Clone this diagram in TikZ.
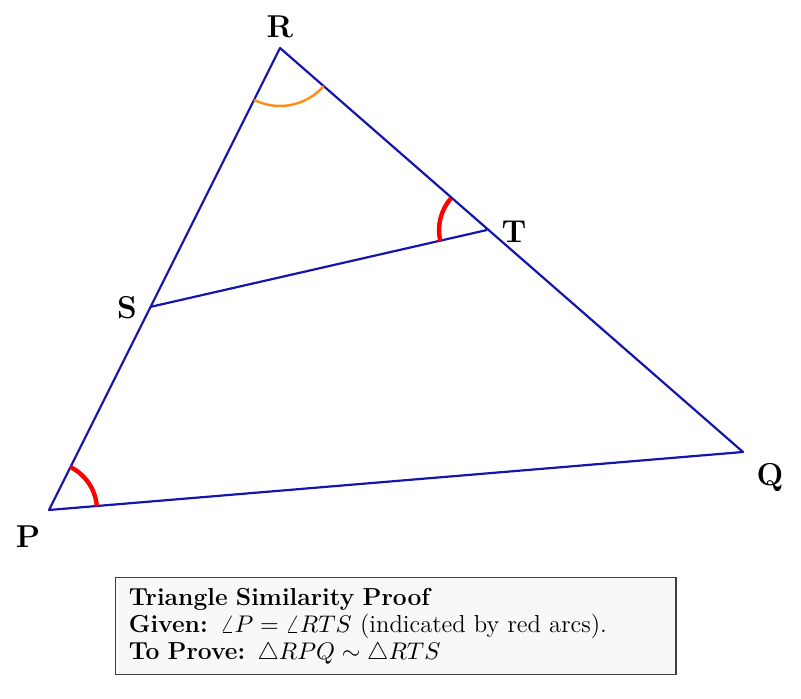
\documentclass[tikz,border=0pt]{standalone}
\usetikzlibrary{angles}
\definecolor{edgeblue}{RGB}{20,20,175}
\definecolor{arcorange}{RGB}{255,140,20}
\definecolor{boxgray}{RGB}{248,248,248}
\begin{document}
\begin{tikzpicture}[x=0.016cm,y=-0.016cm,
  edge/.style={draw=edgeblue,line width=1pt,line join=round},
  vlabel/.style={font=\Large\bfseries,inner sep=0pt},
  redarc/.style={draw=red,line width=2pt,angle radius=0.768cm},
  orangearc/.style={draw=arcorange,line width=1.1pt,angle radius=0.928cm},
  infobox/.style={draw=black!75,fill=boxgray,line width=0.6pt,align=left,
    font=\fontsize{11.2}{12.3}\selectfont,
    text width=8.55cm,inner xsep=0.21cm,inner ysep=0.17cm,anchor=north west}]
\useasboundingbox (0,0) rectangle (801,699);
\coordinate (R) at (280,48);
\coordinate (P) at (49,510);
\coordinate (Q) at (743,452);
\coordinate (S) at (150,307);
\coordinate (T) at (487,230);
\path[edge] (P) -- (R) -- (Q) -- cycle;
\path[edge] (S) -- (T);
\pic[redarc] {angle = Q--P--R};
\pic[redarc] {angle = R--T--S};
\pic[orangearc] {angle = P--R--Q};
\node[vlabel] (lR) at (280,27) {R};
\node[vlabel] (lP) at (28,537) {P};
\node[vlabel] (lQ) at (770,478) {Q};
\node[vlabel] (lS) at (127,308) {S};
\node[vlabel] (lT) at (514,232) {T};
\node[infobox] (box) at (115,577) {\textbf{Triangle Similarity Proof}\\
\textbf{Given:} $\angle P = \angle RTS$ (indicated by red arcs).\\
\textbf{To Prove:} $\triangle RPQ \sim \triangle RTS$};
\end{tikzpicture}
\end{document}
